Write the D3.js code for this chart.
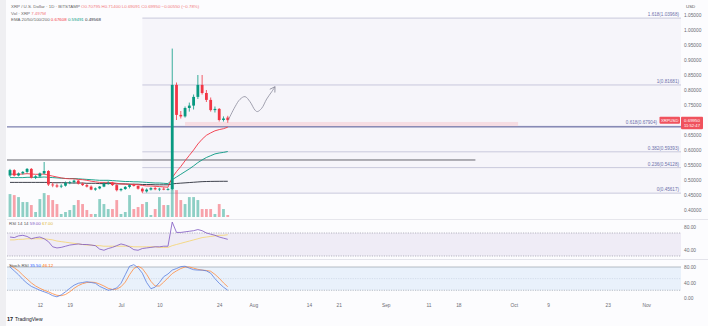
<!DOCTYPE html>
<html><head><meta charset="utf-8">
<script src="https://cdn.jsdelivr.net/npm/d3@7"></script>
<style>
html,body{margin:0;padding:0;background:#fff;}
svg{display:block;font-family:"Liberation Sans",Arial,sans-serif;}
</style></head><body>
<svg id="c" width="708" height="326"></svg>
<script>
// ---------- DATA ----------
const dates = ["2023-06-05","2023-06-06","2023-06-07","2023-06-08","2023-06-09","2023-06-10","2023-06-11","2023-06-12","2023-06-13","2023-06-14",
"2023-06-15","2023-06-16","2023-06-17","2023-06-18","2023-06-19","2023-06-20","2023-06-21","2023-06-22","2023-06-23","2023-06-24",
"2023-06-25","2023-06-26","2023-06-27","2023-06-28","2023-06-29","2023-06-30","2023-07-01","2023-07-02","2023-07-03","2023-07-04",
"2023-07-05","2023-07-06","2023-07-07","2023-07-08","2023-07-09","2023-07-10","2023-07-11","2023-07-12","2023-07-13","2023-07-14",
"2023-07-15","2023-07-16","2023-07-17","2023-07-18","2023-07-19","2023-07-20","2023-07-21","2023-07-22","2023-07-23","2023-07-24",
"2023-07-25","2023-07-26"];
const open  = [.515,.533,.515,.522,.527,.537,.508,.512,.522,.530,.485,.482,.478,.481,.490,.493,.498,.488,.483,.478,.468,.472,.478,.488,.491,.483,.466,.470,.477,.483,.480,.471,.462,.468,.473,.469,.471,.468,.470,.817,.717,.712,.740,.748,.777,.817,.790,.767,.733,.737,.700,.70795];
const high  = [.537,.536,.525,.530,.540,.540,.516,.525,.560,.533,.492,.488,.486,.495,.497,.502,.500,.492,.488,.482,.475,.480,.492,.496,.494,.486,.473,.480,.486,.488,.482,.475,.472,.476,.478,.474,.476,.474,.938,.825,.730,.745,.758,.785,.850,.850,.800,.775,.745,.740,.712,.714];
const low   = [.510,.512,.512,.518,.522,.505,.503,.508,.518,.480,.476,.474,.473,.478,.486,.488,.485,.480,.475,.466,.464,.469,.476,.484,.480,.462,.462,.467,.472,.478,.468,.45617,.458,.465,.466,.463,.466,.465,.466,.700,.705,.708,.728,.735,.770,.785,.760,.728,.725,.695,.695,.69091];
const close = [.533,.515,.522,.527,.537,.508,.512,.522,.530,.485,.482,.478,.481,.490,.493,.498,.488,.483,.478,.468,.472,.478,.488,.491,.483,.466,.470,.477,.483,.480,.471,.462,.468,.473,.469,.471,.468,.470,.817,.717,.712,.740,.748,.777,.817,.790,.767,.733,.737,.700,.705,.6995];
const volume = [86.3,82.5,75,56.3,56.3,45,18.8,67.5,90,82.5,63.8,48.8,11.3,18.8,26.3,45,63.8,48.8,26.3,11.3,11.3,67.5,48.8,30,30,63.8,11.3,18.8,82.5,30,37.5,48.8,56.3,7.5,30,75,45,45,120,101.3,63.8,48.8,75,75,63.8,30,30,30,11.3,48.8,30,7.497];
const ema20 = [.520,.519,.519,.520,.521,.520,.519,.519,.520,.516,.513,.510,.507,.505,.504,.504,.502,.501,.499,.496,.494,.492,.492,.492,.491,.489,.487,.486,.486,.485,.484,.482,.480,.480,.479,.478,.477,.476,.508,.528,.545,.564,.582,.600,.620,.636,.649,.657,.664,.668,.671,.67608];
const ema50 = [.508,.508,.508,.508,.509,.509,.509,.509,.510,.509,.508,.507,.506,.505,.505,.505,.504,.503,.502,.501,.500,.499,.499,.499,.498,.497,.496,.495,.495,.494,.494,.493,.492,.491,.490,.490,.489,.488,.501,.510,.519,.528,.537,.547,.558,.567,.575,.581,.587,.590,.592,.59491];
const ema200 = [.492,.492,.492,.492,.492,.492,.492,.492,.492,.492,.491,.491,.491,.491,.490,.490,.490,.490,.489,.489,.489,.488,.488,.488,.488,.487,.487,.487,.486,.486,.486,.485,.485,.485,.484,.484,.484,.484,.487,.4885,.4895,.4905,.4915,.4925,.4935,.4945,.4950,.4953,.4955,.4956,.4957,.49568];
const rsi   = [63,62,65,66,64,60,62,63,60,55,46,44,45,47,49,50,51,50,50,49,48,42,40,43,45,48,51,49,46,41,40,43,44,45,46,46,47,47,89,71,71,72,73,74,76,74,70,68,66,63,61,59];
const rsiMa = [58,58,59,59,60,60,60,60,60,59,58,56,55,54,53,52,51,50,49,49,48,48,47,47,47,47,47,47,47,46,46,46,46,46,46,45,45,45,48,50,52,54,56,58,60,62,63,64,65,66,66,67];
const stochK = [80,70,60,48,38,30,25,20,16,12,6,3,8,16,25,33,38,40,42,40,38,30,25,20,22,26,38,60,82,86,78,64,40,24,28,40,55,62,72,76,81,82,77,73,72,72,70,64,50,38,28,20];
const stochD = [85,78,70,59,49,39,31,25,20,16,11,7,6,9,16,25,32,37,40,41,40,36,31,25,22,23,29,41,60,76,82,76,61,43,31,31,41,52,63,70,76,80,80,77,74,72,71,69,61,51,39,29];
const priceTicks = [1.05,1.0,0.95,0.9,0.85,0.8,0.75,0.7,0.65,0.6,0.55,0.5,0.45,0.4];
const fibLevels = ["1.618","1","0.618","0.382","0.236","0"];
const fibPrices = [1.03968,0.81681,0.67904,0.59393,0.54128,0.45617];
const fibStart = "2023-07-06";
const timeTicks = ["2023-06-12","2023-06-19","2023-07-01","2023-07-10","2023-07-24","2023-08-01","2023-08-14","2023-08-21","2023-09-01","2023-09-11","2023-09-18","2023-10-01","2023-10-09","2023-10-23","2023-11-01"];
const timeTickLabels = ["12","19","Jul","10","24","Aug","14","21","Sep","11","18","Oct","9","23","Nov"];
const rsiTicks = [80,40];
const stochTicks = [80,40,0];
const pathDays = [25.13,26.70,27.87,29.04,30.21,31.38,31.92,32.95,34.12,35.29,36.07];
const pathPrices = [0.700,0.744,0.769,0.778,0.761,0.733,0.728,0.739,0.770,0.794,0.811];
const navyLine = 0.677;
const blackLine = {price:0.5667, end:"2023-09-22"};
const zone = {from:"2023-07-16", to:"2023-10-02", lo:0.6795, hi:0.6935};

// ---------- SCALES ----------
const svg = d3.select("#c");
const P = s => new Date(s+"T00:00:00Z");
const DAY = 864e5;
const jul1 = Date.UTC(2023,6,1);
const L = 7, R = 681;
const x = d3.scaleUtc().domain([new Date(jul1-26.7*DAY), new Date(jul1+131.15*DAY)]).range([L,R]);
const y = d3.scaleLinear().domain([0.4,1.05]).range([210,15]);
const yv = d3.scaleLinear().domain([0,128]).range([217,183]);
const yr = d3.scaleLinear().domain([30,70]).range([256,233]);
const ys = d3.scaleLinear().domain([20,80]).range([290.25,267]);
const dd = dates.map(P);
const up = i => close[i] >= open[i];
const GREEN="#089981", RED="#f23645";

// backgrounds
svg.append("rect").attr("width",708).attr("height",326).attr("fill","#fcfcfe");
svg.append("rect").attr("x",0).attr("y",0).attr("width",6).attr("height",326).attr("fill","#efeff2");
const defs = svg.append("defs");
defs.append("clipPath").attr("id","mainClip").append("rect").attr("x",L).attr("y",0).attr("width",R-L).attr("height",219);
defs.append("marker").attr("id","arr").attr("markerUnits","userSpaceOnUse").attr("markerWidth",8).attr("markerHeight",8)
  .attr("refX",6).attr("refY",4).attr("orient","auto")
  .append("path").attr("d","M1,1 L6,4 L1,7").attr("fill","none").attr("stroke","#8c8c9c").attr("stroke-width",0.8);

const main = svg.append("g").attr("clip-path","url(#mainClip)");

// fib fill
main.append("rect").attr("x",x(P(fibStart))).attr("y",y(fibPrices[0]))
  .attr("width",R-x(P(fibStart))).attr("height",y(fibPrices[5])-y(fibPrices[0]))
  .attr("fill","#f6f5fa");
// fib lines
main.selectAll(".fib").data(fibPrices).join("line")
  .attr("x1",x(P(fibStart))).attr("x2",R).attr("y1",d=>y(d)).attr("y2",d=>y(d))
  .attr("stroke","#c9c9dc").attr("stroke-width",1);
// zone rect
main.append("rect").attr("x",x(P(zone.from))).attr("width",x(P(zone.to))-x(P(zone.from)))
  .attr("y",y(zone.hi)).attr("height",y(zone.lo)-y(zone.hi)).attr("fill","#f6dde3");
// navy line
main.append("line").attr("x1",L).attr("x2",R).attr("y1",y(navyLine)).attr("y2",y(navyLine))
  .attr("stroke","#4a4f8f").attr("stroke-width",0.9);
// black line
main.append("line").attr("x1",L).attr("x2",x(P(blackLine.end))).attr("y1",y(blackLine.price)).attr("y2",y(blackLine.price))
  .attr("stroke","#55555d").attr("stroke-width",0.9);

// volume
const bw = 2.8;
main.selectAll(".vol").data(volume).join("rect")
  .attr("x",(d,i)=>x(dd[i])-bw/2).attr("width",bw)
  .attr("y",d=>yv(d)).attr("height",d=>yv(0)-yv(d))
  .attr("fill",(d,i)=>up(i)?"rgba(8,153,129,0.45)":"rgba(242,54,69,0.45)");

// EMAs
const lineGen = arr => d3.line().x((d,i)=>x(dd[i])).y(d=>y(d))(arr);
main.append("path").attr("d",lineGen(ema200)).attr("fill","none").attr("stroke","#2a2e39").attr("stroke-width",0.9);
main.append("path").attr("d",lineGen(ema50)).attr("fill","none").attr("stroke",GREEN).attr("stroke-width",0.9);
main.append("path").attr("d",lineGen(ema20)).attr("fill","none").attr("stroke",RED).attr("stroke-width",0.9);

// candles
const cg = main.append("g");
cg.selectAll(".wick").data(dd).join("line")
  .attr("x1",d=>x(d)).attr("x2",d=>x(d)).attr("y1",(d,i)=>y(high[i])).attr("y2",(d,i)=>y(low[i]))
  .attr("stroke",(d,i)=>up(i)?GREEN:RED).attr("stroke-width",0.8);
cg.selectAll(".body").data(dd).join("rect")
  .attr("x",d=>x(d)-bw/2).attr("width",bw)
  .attr("y",(d,i)=>y(Math.max(open[i],close[i])))
  .attr("height",(d,i)=>Math.max(0.8,Math.abs(y(open[i])-y(close[i]))))
  .attr("fill",(d,i)=>up(i)?GREEN:RED);

// projection path
const pts = pathDays.map((d,i)=>[x(new Date(jul1+d*DAY)), y(pathPrices[i])]);
main.append("path").attr("d",d3.line().curve(d3.curveCatmullRom)(pts)).attr("fill","none")
  .attr("stroke","#8c8c9c").attr("stroke-width",0.8).attr("marker-end","url(#arr)");

// fib labels
svg.selectAll(".fibt").data(fibPrices).join("text")
  .attr("x",(d,i)=>fibLevels[i]==="0.618"?657:679).attr("y",d=>y(d)-2).attr("text-anchor","end")
  .attr("font-size",4.6).attr("fill","#6c70aa")
  .text((d,i)=>`${fibLevels[i]}(${d.toFixed(5)})`);

// price axis
const pa = svg.append("g").attr("transform",`translate(${R+1},0)`)
  .call(d3.axisRight(y).tickValues(priceTicks).tickFormat(d3.format(".5f")).tickSize(0).tickPadding(2));
pa.select(".domain").remove();
pa.selectAll("text").attr("font-size",4.8).attr("fill","#6b6b73").attr("font-family","Liberation Sans, Arial, sans-serif");
svg.append("text").attr("x",686).attr("y",8).attr("font-size",4.4).attr("fill","#555").text("USD");

// price boxes
const cy = y(close[close.length-1]);
svg.append("rect").attr("x",659.5).attr("y",cy-3.5).attr("width",20.5).attr("height",7).attr("fill","#f0525d").attr("rx",0.8);
svg.append("text").attr("x",669.7).attr("y",cy+1.5).attr("text-anchor","middle").attr("font-size",4.2).attr("fill","#fff").text("XRPUSD");
svg.append("rect").attr("x",681).attr("y",cy-3.5).attr("width",22).attr("height",12.5).attr("fill","#f0525d").attr("rx",0.8);
svg.append("text").attr("x",692).attr("y",cy+1.6).attr("text-anchor","middle").attr("font-size",4.4).attr("fill","#fff").text(d3.format(".5f")(close[close.length-1]));
svg.append("text").attr("x",692).attr("y",cy+7).attr("text-anchor","middle").attr("font-size",4.2).attr("fill","#fff").text("11:52:47");

// separators
svg.append("line").attr("x1",L).attr("x2",708).attr("y1",219.5).attr("y2",219.5).attr("stroke","#e6e6ec");
svg.append("line").attr("x1",L).attr("x2",708).attr("y1",259.5).attr("y2",259.5).attr("stroke","#e3e3ea");

// RSI pane
svg.append("rect").attr("x",L).attr("width",R-L).attr("y",yr(70)).attr("height",yr(30)-yr(70)).attr("fill","#efecf6");
[70,30].forEach(v=>svg.append("line").attr("x1",L).attr("x2",R).attr("y1",yr(v)).attr("y2",yr(v))
  .attr("stroke","#9a9aa6").attr("stroke-width",0.7).attr("stroke-dasharray","1.2,1.2"));
const rsiLine = arr => d3.line().x((d,i)=>x(dd[i])).y(d=>yr(d))(arr);
svg.append("path").attr("d",rsiLine(rsiMa)).attr("fill","none").attr("stroke","#f5d36b").attr("stroke-width",0.8);
svg.append("path").attr("d",rsiLine(rsi)).attr("fill","none").attr("stroke","#7e57c2").attr("stroke-width",0.8);
const ra = svg.append("g").attr("transform",`translate(${R+1},0)`)
  .call(d3.axisRight(yr).tickValues(rsiTicks).tickFormat(d3.format(".2f")).tickSize(0).tickPadding(2));
ra.select(".domain").remove();
ra.selectAll("text").attr("font-size",4.8).attr("fill","#6b6b73").attr("font-family","Liberation Sans, Arial, sans-serif");
const rl = svg.append("text").attr("x",9).attr("y",225).attr("font-size",4.4).attr("fill","#555");
rl.append("tspan").text("RSI  14  14  ");
rl.append("tspan").attr("fill","#7e57c2").text(rsi[rsi.length-1].toFixed(2)+"  ");
rl.append("tspan").attr("fill","#e0b838").text(rsiMa[rsiMa.length-1].toFixed(2));

// Stoch RSI pane
svg.append("rect").attr("x",L).attr("width",R-L).attr("y",ys(80)).attr("height",ys(20)-ys(80)).attr("fill","#e9f1fb");
[80,50,20].forEach(v=>svg.append("line").attr("x1",L).attr("x2",R).attr("y1",ys(v)).attr("y2",ys(v))
  .attr("stroke",v===50?"#c9d3e2":"#9aa0ad").attr("stroke-width",0.7).attr("stroke-dasharray",v===80?null:"1.2,1.2"));
const sLine = arr => d3.line().x((d,i)=>x(dd[i])).y(d=>ys(d))(arr);
svg.append("path").attr("d",sLine(stochD)).attr("fill","none").attr("stroke","#ff8a3d").attr("stroke-width",0.8);
svg.append("path").attr("d",sLine(stochK)).attr("fill","none").attr("stroke","#5b7fe0").attr("stroke-width",0.8);
const sa = svg.append("g").attr("transform",`translate(${R+1},0)`)
  .call(d3.axisRight(ys).tickValues(stochTicks).tickFormat(d3.format(".2f")).tickSize(0).tickPadding(2));
sa.select(".domain").remove();
sa.selectAll("text").attr("font-size",4.8).attr("fill","#6b6b73").attr("font-family","Liberation Sans, Arial, sans-serif");
const sl = svg.append("text").attr("x",9).attr("y",266.5).attr("font-size",4.4).attr("fill","#555");
sl.append("tspan").text("Stoch RSI  ");
sl.append("tspan").attr("fill","#2962ff").text("35.50  ");
sl.append("tspan").attr("fill","#ff6d00").text("46.12");

// time axis
const ta = svg.append("g").attr("transform","translate(0,302)")
  .call(d3.axisBottom(x).tickValues(timeTicks.map(P)).tickFormat((d,i)=>timeTickLabels[i]).tickSize(0).tickPadding(2));
ta.select(".domain").remove();
ta.selectAll("text").attr("font-size",4.8).attr("fill","#6b6b73").attr("font-family","Liberation Sans, Arial, sans-serif");

// legend
const g1 = svg.append("text").attr("x",11).attr("y",8).attr("font-size",4.4).attr("fill","#666");
g1.append("tspan").text("XRP / U.S. Dollar · 1D · BITSTAMP  ");
const last = close.length-1;
const chg = close[last]-close[last-1];
g1.append("tspan").attr("fill","#f27a80").text(`O${open[last].toFixed(5)}  H${high[last].toFixed(5)}  L${low[last].toFixed(5)}  C${close[last].toFixed(5)}  ${d3.format(".5f")(chg).replace("-","−")} (${d3.format(".2%")(chg/close[last-1]).replace("-","−")})`);
const g2 = svg.append("text").attr("x",11).attr("y",14.5).attr("font-size",4.4).attr("fill","#666");
g2.append("tspan").text("Vol · XRP  ");
g2.append("tspan").attr("fill","#f27a80").text(volume[last].toFixed(3)+"M");
const g3 = svg.append("text").attr("x",11).attr("y",21).attr("font-size",4.4).attr("fill","#666");
g3.append("tspan").text("EMA 20/50/100/200  ");
g3.append("tspan").attr("fill","#f23645").text(ema20[last].toFixed(5)+"  ");
g3.append("tspan").attr("fill","#089981").text(ema50[last].toFixed(5)+"  ");
g3.append("tspan").attr("fill","#2a2e39").text(ema200[last].toFixed(5));

// TradingView mark
svg.append("text").attr("x",7).attr("y",321).attr("font-size",5.5).attr("font-weight","bold").attr("fill","#131722").text("17");
svg.append("text").attr("x",15).attr("y",321).attr("font-size",5).attr("fill","#131722").text("TradingView");
</script>
</body></html>
